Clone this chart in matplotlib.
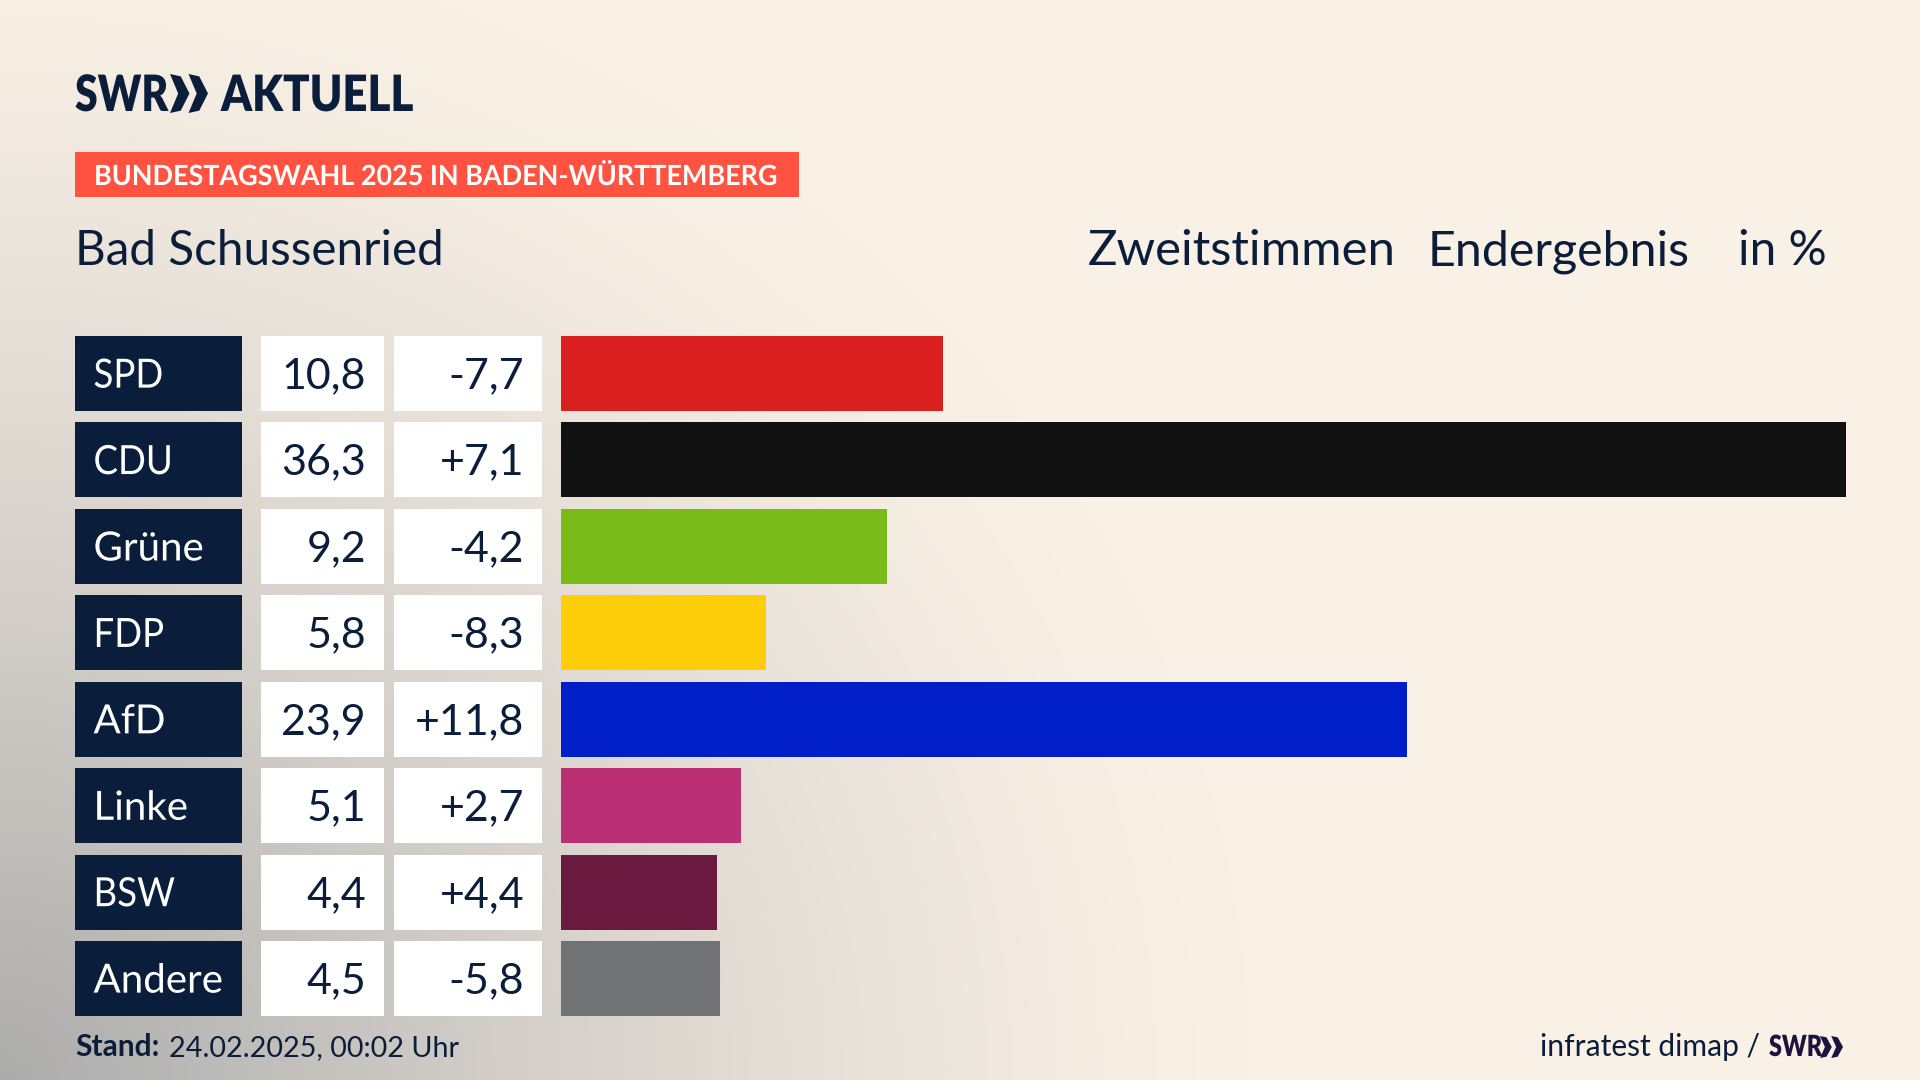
import matplotlib.pyplot as plt
import numpy as np
from matplotlib.patches import Polygon, Rectangle
from matplotlib.patheffects import AbstractPathEffect
from matplotlib.transforms import Affine2D

# Zweitstimmen, Bad Schussenried
parties = ['SPD', 'CDU', 'Grüne', 'FDP', 'AfD', 'Linke', 'BSW', 'Andere']
values = [10.8, 36.3, 9.2, 5.8, 23.9, 5.1, 4.4, 4.5]
diffs = ['-7,7', '+7,1', '-4,2', '-8,3', '+11,8', '+2,7', '+4,4', '-5,8']
bar_colors = ['#D91F1F', '#121212', '#79BC1A', '#FFCE0A', '#001FC8', '#BB3074', '#6A1A3E', '#717274']

NAVY = '#0A1E3C'
W, H = 1920, 1080
plt.rcParams['font.family'] = ['Lato', 'DejaVu Sans']


class Squeeze(AbstractPathEffect):
    # narrows a text around its left edge, the original font is condensed
    def __init__(self, x0, sx):
        super().__init__()
        self.x0, self.sx = x0, sx

    def draw_path(self, renderer, gc, tpath, affine, rgbFace=None):
        t = affine + Affine2D().translate(-self.x0, 0).scale(self.sx, 1).translate(self.x0, 0)
        renderer.draw_path(gc, tpath, t, rgbFace)


fig = plt.figure(figsize=(W / 100, H / 100), dpi=100)

# full figure axes in pixels for background, header and footer
bg = fig.add_axes([0, 0, 1, 1])
bg.axis('off')

# grey shade coming out of the lower left corner
xx, yy = np.meshgrid(np.linspace(0, W, 480), np.linspace(0, H, 270))
d = np.sqrt((xx / 1250) ** 2 + ((H - yy) / 1150) ** 2)
t = np.clip(1 - d, 0, 1) ** 1.3
cream = np.array([250, 241, 230]) / 255
grey = np.array([172, 172, 171]) / 255
shade = cream + (grey - cream) * t[..., None]
bg.imshow(shade, extent=[0, W, H, 0], aspect='auto', zorder=0, interpolation='bilinear')
bg.set_xlim(0, W)
bg.set_ylim(H, 0)


def chevrons(ax, x0, x1, y0, y1, color):
    # the two arrows of the SWR logo
    w = (x1 - x0) / 1.95
    for off in [0, 0.95 * w]:
        a = x0 + off
        m = (y0 + y1) / 2
        ax.add_patch(Polygon([(a, y0), (a + 0.55 * w, y0 + 0.06 * (y1 - y0)), (a + w, m),
                              (a + 0.55 * w, y1 - 0.06 * (y1 - y0)), (a, y1), (a + 0.42 * w, m)],
                             closed=True, color=color, lw=0, zorder=3))


# logo
bg.text(75, 111, 'SWR', fontsize=36, fontweight='heavy', color=NAVY, va='baseline', ha='left',
        path_effects=[Squeeze(75, 0.82)])
chevrons(bg, 170, 208, 74, 113, NAVY)
bg.text(221, 111, 'AKTUELL', fontsize=36, fontweight='heavy', color=NAVY, va='baseline', ha='left',
        path_effects=[Squeeze(221, 0.875)])

# tag
bg.add_patch(Rectangle((75, 152), 724, 45, color='#FF5240', lw=0, zorder=2))
bg.text(94, 185, 'BUNDESTAGSWAHL 2025 IN BADEN-WÜRTTEMBERG', fontsize=20, fontweight='bold',
        color='white', va='baseline', ha='left', zorder=3, path_effects=[Squeeze(94, 0.97)])

# header line
bg.text(75, 265, 'Bad Schussenried', fontsize=34.3, color=NAVY, va='baseline', ha='left')
bg.text(1088, 265, 'Zweitstimmen', fontsize=35.4, color=NAVY, va='baseline', ha='left')
bg.text(1428, 265, 'Endergebnis', fontsize=34.8, color=NAVY, va='baseline', ha='left')
bg.text(1738, 265, 'in %', fontsize=34.4, color=NAVY, va='baseline', ha='left')

# footer
bg.text(75, 1056, 'Stand:', fontsize=21.5, fontweight='bold', color=NAVY, va='baseline', ha='left')
bg.text(169, 1056, '24.02.2025, 00:02 Uhr', fontsize=20.7, color=NAVY, va='baseline', ha='left')
bg.text(1540, 1056, 'infratest dimap /', fontsize=21.6, color=NAVY, va='baseline', ha='left')
bg.text(1769, 1056, 'SWR', fontsize=21, fontweight='heavy', color='#1E1240', va='baseline', ha='left',
        path_effects=[Squeeze(1769, 0.8)])
chevrons(bg, 1820, 1843, 1036, 1058, '#1E1240')

# rows
top, bottom = 336.0, 1016.0
pitch = 86.43
bar_h = 75 / pitch
y = np.arange(len(parties))
text_dy = -0.01


def row_axes(x0, x1):
    ax = fig.add_axes([x0 / W, 1 - bottom / H, (x1 - x0) / W, (bottom - top) / H])
    ax.set_ylim(len(parties) - 1 + bar_h / 2, -bar_h / 2)
    ax.axis('off')
    ax.patch.set_alpha(0)
    return ax


# name column
ax_name = row_axes(75, 242)
ax_name.set_xlim(0, 1)
ax_name.barh(y, 1, height=bar_h, color=NAVY)
for i, p in zip(y, parties):
    # capitals run narrower in the original
    sx = 0.91 if p.isupper() else 1
    ax_name.text(18.5 / 167, i + text_dy, p, color='white', fontsize=29, va='center_baseline', ha='left',
                 path_effects=[Squeeze(93.5, sx)])

# value column
ax_val = row_axes(261, 384)
ax_val.set_xlim(0, 1)
ax_val.barh(y, 1, height=bar_h, color='white')
for i, v in zip(y, values):
    ax_val.text(105 / 123, i + text_dy, f'{v:.1f}'.replace('.', ','), color=NAVY, fontsize=31,
                va='center_baseline', ha='right')

# difference column
ax_diff = row_axes(394, 542)
ax_diff.set_xlim(0, 1)
ax_diff.barh(y, 1, height=bar_h, color='white')
for i, s in zip(y, diffs):
    ax_diff.text(130 / 148, i + text_dy, s, color=NAVY, fontsize=31, va='center_baseline', ha='right')

# bars
ax_bar = row_axes(561, 1845.5)
ax_bar.set_xlim(0, max(values))
ax_bar.barh(y, values, height=bar_h, color=bar_colors)

fig.savefig('out.png', dpi=100)
